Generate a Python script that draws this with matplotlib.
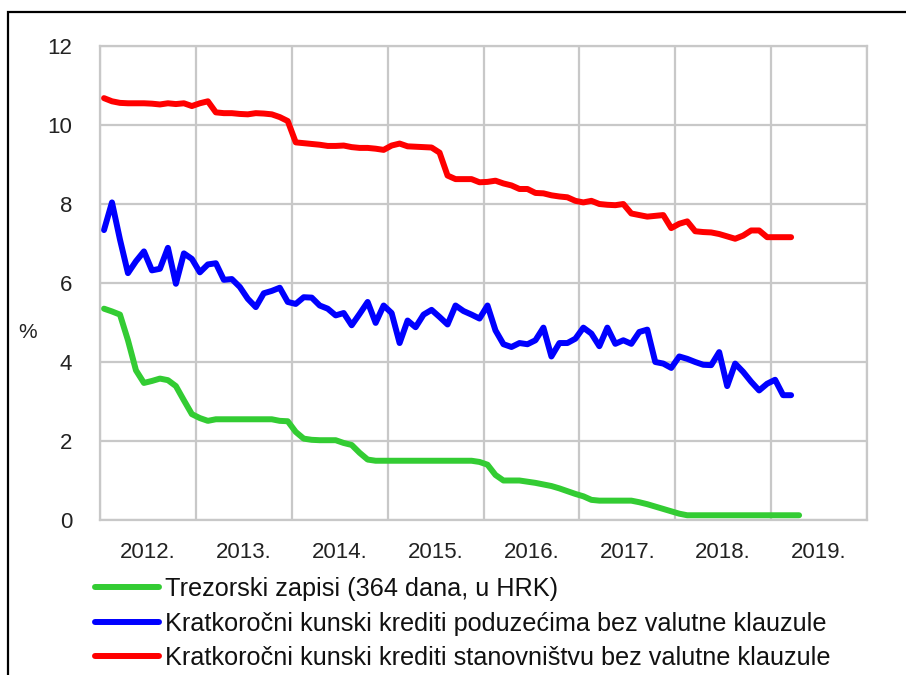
import numpy as np
import matplotlib
matplotlib.use("Agg")
import matplotlib.pyplot as plt
from matplotlib.patches import Rectangle

plt.rcParams['font.family'] = ['Liberation Sans', 'DejaVu Sans']

# Monthly data, January 2012 onwards
treasury = [5.35, 5.28, 5.2, 4.55, 3.79, 3.47, 3.52, 3.58, 3.54, 3.39, 3.03, 2.68,
            2.58, 2.51, 2.55, 2.55, 2.55, 2.55, 2.55, 2.55, 2.55, 2.55, 2.51, 2.5,
            2.23, 2.06, 2.03, 2.02, 2.02, 2.02, 1.95, 1.9, 1.7, 1.53, 1.5, 1.5,
            1.5, 1.5, 1.5, 1.5, 1.5, 1.5, 1.5, 1.5, 1.5, 1.5, 1.5, 1.47,
            1.4, 1.14, 1.0, 1.0, 1.0, 0.97, 0.94, 0.9, 0.86, 0.8, 0.73, 0.66,
            0.6, 0.51, 0.49, 0.49, 0.49, 0.49, 0.49, 0.45, 0.4, 0.34, 0.28, 0.22,
            0.16, 0.12, 0.12, 0.12, 0.12, 0.12, 0.12, 0.12, 0.12, 0.12, 0.12, 0.12,
            0.12, 0.12, 0.12, 0.12]

firms = [7.34, 8.04, 7.1, 6.25, 6.55, 6.8, 6.32, 6.36, 6.89, 5.98, 6.75, 6.61,
         6.27, 6.47, 6.5, 6.08, 6.1, 5.9, 5.6, 5.39, 5.74, 5.8, 5.88, 5.52,
         5.47, 5.64, 5.63, 5.43, 5.35, 5.18, 5.24, 4.93, 5.22, 5.52, 4.99, 5.43,
         5.24, 4.48, 5.05, 4.88, 5.2, 5.32, 5.14, 4.95, 5.43, 5.29, 5.2, 5.1,
         5.43, 4.8, 4.45, 4.38, 4.48, 4.45, 4.55, 4.87, 4.14, 4.48, 4.48, 4.59,
         4.87, 4.72, 4.4, 4.87, 4.46, 4.55, 4.46, 4.76, 4.82, 4.0, 3.96, 3.85,
         4.14, 4.08, 4.0, 3.93, 3.92, 4.25, 3.39, 3.96, 3.75, 3.5, 3.28, 3.45,
         3.55, 3.16, 3.16]

households = [10.68, 10.6, 10.56, 10.55, 10.55, 10.55, 10.54, 10.52, 10.55, 10.53, 10.55, 10.48,
              10.55, 10.6, 10.32, 10.3, 10.3, 10.28, 10.27, 10.3, 10.29, 10.27, 10.2, 10.1,
              9.56, 9.54, 9.52, 9.5, 9.47, 9.47, 9.48, 9.44, 9.42, 9.42, 9.4, 9.37,
              9.48, 9.53, 9.46, 9.45, 9.44, 9.43, 9.3, 8.72, 8.63, 8.63, 8.63, 8.55,
              8.56, 8.59, 8.52, 8.47, 8.38, 8.38, 8.28, 8.27, 8.22, 8.19, 8.17, 8.08,
              8.04, 8.08, 8.0, 7.98, 7.97, 8.0, 7.76, 7.72, 7.68, 7.7, 7.72, 7.39,
              7.5, 7.56, 7.31, 7.29, 7.28, 7.24, 7.18, 7.12, 7.2, 7.33, 7.33, 7.16,
              7.16, 7.16, 7.16]

year_labels = ["2012.", "2013.", "2014.", "2015.", "2016.", "2017.", "2018.", "2019."]
series_names = ["Trezorski zapisi (364 dana, u HRK)",
                "Kratkoročni kunski krediti poduzećima bez valutne klauzule",
                "Kratkoročni kunski krediti stanovništvu bez valutne klauzule"]

def months_x(n):
    return 2012 + (np.arange(n) + 0.5) / 12.0

fig = plt.figure(figsize=(9.06, 6.75), dpi=100)
ax = fig.add_axes([100/906, 1 - 520/675, (867-100)/906, (520-46)/675])

lw = 4.3
l1, = ax.plot(months_x(len(treasury)), treasury, color='#33cc33', lw=lw,
              solid_capstyle='round', solid_joinstyle='round')
l2, = ax.plot(months_x(len(firms)), firms, color='#0000ff', lw=lw,
              solid_capstyle='round', solid_joinstyle='round')
l3, = ax.plot(months_x(len(households)), households, color='#ff0000', lw=lw,
              solid_capstyle='round', solid_joinstyle='round')

ax.set_xlim(2012, 2020)
ax.set_ylim(0, 12)
ax.set_yticks(range(0, 13, 2))
ax.set_xticks(range(2012, 2021))
ax.set_xticklabels([])
ax.set_xticks([2012.5 + k for k in range(len(year_labels))], minor=True)
ax.set_xticklabels(year_labels, minor=True)
ax.tick_params(axis='both', which='both', length=0)
ax.tick_params(axis='y', labelsize=16, pad=20, colors='#222222')
ax.tick_params(axis='x', which='minor', labelsize=16, pad=16, colors='#222222')
ax.grid(True, which='major', color='#c8c8c8', lw=1.6)
ax.set_axisbelow(True)
for s in ax.spines.values():
    s.set_color('#c8c8c8')
    s.set_linewidth(1.6)

fig.text(28/906, 1 - 332/675, "%", fontsize=15, ha='center', va='center',
         color='#222222')

leg = fig.legend([l1, l2, l3], series_names, loc='upper left',
                 bbox_to_anchor=(95/906, 1 - 577/675), frameon=False,
                 fontsize=18.2, handlelength=2.55, handletextpad=0.2,
                 labelspacing=0.42, borderaxespad=0, borderpad=0)
for t in leg.get_texts():
    t.set_color('#111111')

fig.add_artist(Rectangle((8/906, -0.05), 1.0, 1 - 12/675 + 0.05, fill=False,
                         edgecolor='black', lw=1.6, transform=fig.transFigure,
                         clip_on=False))

fig.savefig("out.png", dpi=100)
